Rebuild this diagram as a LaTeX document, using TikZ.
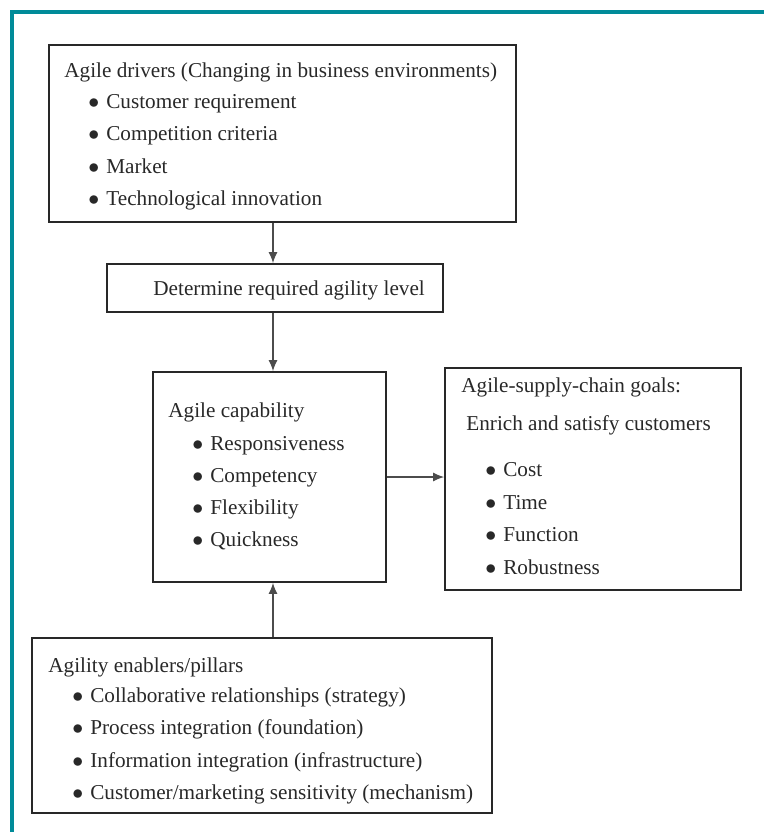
\documentclass[tikz,border=0pt]{standalone}
\usepackage{fontspec}
\setmainfont{Liberation Serif}
\usetikzlibrary{arrows.meta,fit}

\definecolor{frameteal}{RGB}{0,139,153}
\definecolor{inkgray}{RGB}{40,40,40}

\tikzset{
  px/.style={x=0.5pt,y=-0.5pt},
  box/.style={draw=inkgray, line width=0.9pt, inner sep=0pt},
  boxtext/.style={anchor=mid west, inner sep=0pt, yshift=-1.5pt, text=inkgray,
    font=\fontsize{10.6}{13}\selectfont},
  flow/.style={draw=black!70, line width=0.6pt, -{Latex[length=5.5pt,width=4.5pt]}},
}
\newcommand{\dotitem}[1]{$\bullet$\hspace{3.5pt}#1}

\begin{document}
\begin{tikzpicture}[px]
  %% Page size in pixels of the reference.
  \useasboundingbox (0,0) rectangle (764,832);
  %% Distance between two bullet lines.
  \def\step{32.4}
  %% x of the vertical connectors.
  \coordinate (spine) at (273,0);

  %% Teal frame along the top and left edges.
  \draw[frameteal, line width=2pt] (12,832) -- (12,12) -- (764,12);

  %% The five boxes.
  \node[box, fit={(49,45) (516,222)}] (drivers) {};
  \node[box, fit={(107,264) (443,312)}] (level) {};
  \node[box, fit={(153,372) (386,582)}] (capab) {};
  \node[box, fit={(445,368) (741,590)}] (goals) {};
  \node[box, fit={(32,638) (492,813)}] (enablers) {};

  %% Agile drivers.
  \node[boxtext] (drivers-title) at (64,70) {Agile drivers (Changing in business environments)};
  \foreach \t [count=\i] in {Customer requirement, Competition criteria, Market, Technological innovation}
    \node[boxtext] (drivers-\i) at (88, {101+\step*(\i-1)}) {\dotitem{\t}};

  %% Required agility level.
  \node[boxtext] (level-text) at (153,288) {Determine required agility level};

  %% Agile capability.
  \node[boxtext] (capab-title) at (168,410) {Agile capability};
  \foreach \t [count=\i] in {Responsiveness, Competency, Flexibility, Quickness}
    \node[boxtext] (capab-\i) at (192, {443+31.8*(\i-1)}) {\dotitem{\t}};

  %% Goals.
  \node[boxtext] (goals-title) at (461,385) {Agile-supply-chain goals:};
  \node[boxtext] (goals-sub) at (466,423) {Enrich and satisfy customers};
  \foreach \t [count=\i] in {Cost, Time, Function, Robustness}
    \node[boxtext] (goals-\i) at (485, {469+32.7*(\i-1)}) {\dotitem{\t}};

  %% Agility enablers.
  \node[boxtext] (enablers-title) at (48,665) {Agility enablers/pillars};
  \foreach \t [count=\i] in {Collaborative relationships (strategy), Process integration (foundation),
      Information integration (infrastructure), Customer/marketing sensitivity (mechanism)}
    \node[boxtext] (enablers-\i) at (72, {695+32.3*(\i-1)}) {\dotitem{\t}};

  %% Connectors.
  \draw[flow] (drivers.south -| spine) -- (level.north -| spine);
  \draw[flow] (level.south -| spine) -- (capab.north -| spine);
  \draw[flow] (enablers.north -| spine) -- (capab.south -| spine);
  \draw[flow] (capab.east) -- (capab.east -| goals.west);
\end{tikzpicture}
\end{document}
